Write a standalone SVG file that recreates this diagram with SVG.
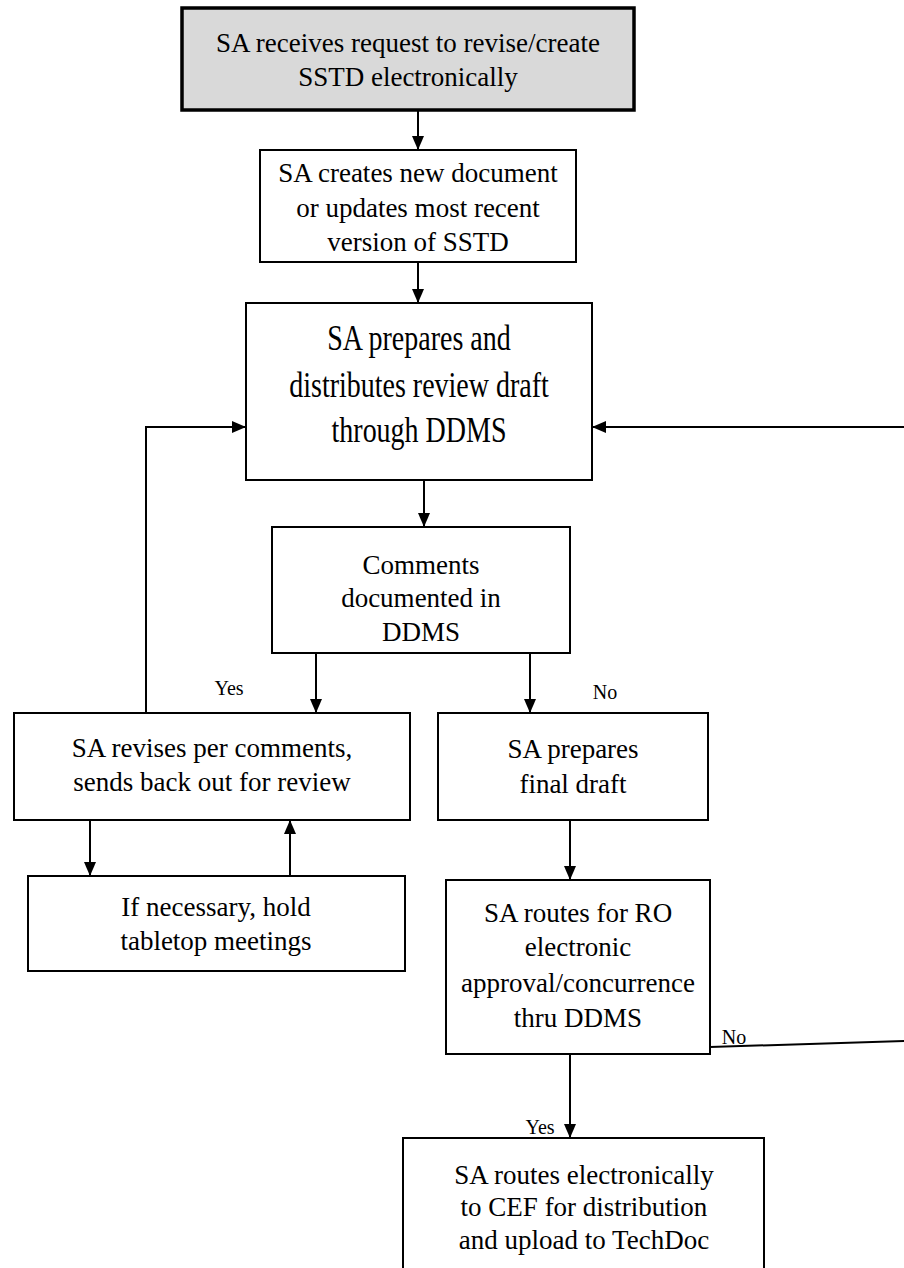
<svg xmlns="http://www.w3.org/2000/svg" width="904" height="1268" viewBox="0 0 904 1268">
<defs>
<marker id="ah" markerWidth="14" markerHeight="14" viewBox="0 0 14 14" refX="14" refY="7" orient="auto" markerUnits="userSpaceOnUse">
<path d="M0,1 L14,7 L0,13 Z" fill="#000"/>
</marker>
<style>
.box{fill:#fff;stroke:#000;stroke-width:2}
.t{font-family:"Liberation Serif","Times New Roman",serif;font-size:27px;fill:#000;text-anchor:middle}
.lbl{font-family:"Liberation Serif","Times New Roman",serif;font-size:20px;fill:#000;text-anchor:middle}
.c{fill:none;stroke:#000;stroke-width:2}
</style>
</defs>
<rect width="904" height="1268" fill="#fff"/>
<g id="n1">
<rect x="182" y="8" width="452" height="102" fill="#d9d9d9" stroke="#000" stroke-width="3.5"/>
<text class="t" x="408" y="52">SA receives request to revise/create</text>
<text class="t" x="408" y="86">SSTD electronically</text>
</g>
<g id="n2">
<rect class="box" x="260" y="150" width="316" height="112"/>
<text class="t" x="418" y="182">SA creates new document</text>
<text class="t" x="418" y="217">or updates most recent</text>
<text class="t" x="418" y="251">version of SSTD</text>
</g>
<g id="n3">
<rect class="box" x="246" y="303" width="346" height="177"/>
<g transform="translate(419,350) scale(1,1.28)"><text class="t" x="0" y="0" style="font-size:28px">SA prepares and</text></g>
<g transform="translate(419,397) scale(1,1.28)"><text class="t" x="0" y="0" style="font-size:28px">distributes review draft</text></g>
<g transform="translate(419,442) scale(1,1.28)"><text class="t" x="0" y="0" style="font-size:28px">through DDMS</text></g>
</g>
<g id="n4">
<rect class="box" x="272" y="527" width="298" height="126"/>
<text class="t" x="421" y="574">Comments</text>
<text class="t" x="421" y="607">documented in</text>
<text class="t" x="421" y="641">DDMS</text>
</g>
<g id="n5">
<rect class="box" x="14" y="713" width="396" height="107"/>
<text class="t" x="212" y="757">SA revises per comments,</text>
<text class="t" x="212" y="791">sends back out for review</text>
</g>
<g id="n6">
<rect class="box" x="438" y="713" width="270" height="107"/>
<text class="t" x="573" y="758">SA prepares</text>
<text class="t" x="573" y="793">final draft</text>
</g>
<g id="n7">
<rect class="box" x="28" y="876" width="377" height="95"/>
<text class="t" x="216" y="916">If necessary, hold</text>
<text class="t" x="216" y="950">tabletop meetings</text>
</g>
<g id="n8">
<rect class="box" x="446" y="880" width="264" height="174"/>
<text class="t" x="578" y="922">SA routes for RO</text>
<text class="t" x="578" y="956">electronic</text>
<text class="t" x="578" y="992">approval/concurrence</text>
<text class="t" x="578" y="1027">thru DDMS</text>
</g>
<g id="n9">
<rect class="box" x="403" y="1138" width="361" height="140"/>
<text class="t" x="584" y="1184">SA routes electronically</text>
<text class="t" x="584" y="1216">to CEF for distribution</text>
<text class="t" x="584" y="1249">and upload to TechDoc</text>
</g>
<g id="connectors">
<line class="c" x1="418" y1="110" x2="418" y2="150" marker-end="url(#ah)"/>
<line class="c" x1="418" y1="262" x2="418" y2="303" marker-end="url(#ah)"/>
<line class="c" x1="424" y1="480" x2="424" y2="527" marker-end="url(#ah)"/>
<line class="c" x1="316" y1="653" x2="316" y2="713" marker-end="url(#ah)"/>
<line class="c" x1="530" y1="653" x2="530" y2="713" marker-end="url(#ah)"/>
<polyline class="c" points="146,713 146,427 246,427" marker-end="url(#ah)"/>
<line class="c" x1="904" y1="427" x2="592" y2="427" marker-end="url(#ah)"/>
<line class="c" x1="90" y1="820" x2="90" y2="876" marker-end="url(#ah)"/>
<line class="c" x1="290" y1="876" x2="290" y2="820" marker-end="url(#ah)"/>
<line class="c" x1="570" y1="820" x2="570" y2="880" marker-end="url(#ah)"/>
<line class="c" x1="570" y1="1054" x2="570" y2="1138" marker-end="url(#ah)"/>
<line class="c" x1="710" y1="1047" x2="904" y2="1041"/>
<text class="lbl" x="229" y="695">Yes</text>
<text class="lbl" x="605" y="699">No</text>
<text class="lbl" x="734" y="1044">No</text>
<text class="lbl" x="540" y="1134">Yes</text>
</g>
</svg>
